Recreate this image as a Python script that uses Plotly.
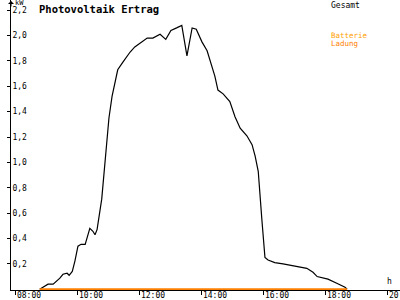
import plotly.graph_objects as go

# ---- data ----
times = ["08:46","09:02","09:12","09:25","09:31","09:39","09:43","09:49","09:54","10:00",
         "10:06","10:14","10:23","10:29","10:33","10:37","10:46","10:54","11:00","11:06",
         "11:11","11:17","11:27","11:41","11:50","12:00","12:14","12:25","12:39","12:50",
         "13:00","13:11","13:21","13:31","13:41","13:49","14:00","14:10","14:16","14:25",
         "14:31","14:41","14:54","15:04","15:14","15:27","15:37","15:43","15:49","15:52",
         "15:56","16:02","16:08","16:21","16:37","17:23","17:35","17:43","18:04","18:21",
         "18:37","18:41"]
gesamt_kw = [0.0,0.04,0.04,0.087,0.118,0.126,0.11,0.14,0.22,0.34,
             0.354,0.354,0.48,0.457,0.43,0.47,0.71,1.10,1.35,1.52,
             1.63,1.73,1.79,1.87,1.91,1.94,1.98,1.98,2.01,1.97,
             2.04,2.06,2.08,1.84,2.06,2.05,1.95,1.88,1.80,1.68,
             1.57,1.54,1.48,1.36,1.27,1.21,1.14,1.05,0.93,0.79,
             0.55,0.25,0.23,0.21,0.20,0.165,0.134,0.10,0.08,0.047,
             0.016,0.0]
batterie_times = ["08:46","18:41"]
batterie_kw = [0.0, 0.0]

x_tick_vals = [8, 10, 12, 14, 16, 18, 20]
x_tick_text = ["08:00","10:00","12:00","14:00","16:00","18:00","20:00"]
y_tick_vals = [0.2,0.4,0.6,0.8,1.0,1.2,1.4,1.6,1.8,2.0,2.2]
y_tick_text = ["0,2","0,4","0,6","0,8","1,0","1,2","1,4","1,6","1,8","2,0","2,2"]

def to_h(t):
    h, m = t.split(":")
    return int(h) + int(m) / 60.0

FONT = "DejaVu Sans Mono"

fig = go.Figure()
fig.add_trace(go.Scatter(x=[to_h(t) for t in times], y=gesamt_kw, mode="lines",
                         line=dict(color="black", width=1.2), name="Gesamt"))
fig.add_trace(go.Scatter(x=[to_h(t) for t in batterie_times], y=batterie_kw, mode="lines",
                         line=dict(color="#FF8000", width=2), name="Batterie Ladung"))

fig.update_layout(
    width=400, height=300,
    margin=dict(l=11, r=0, t=0, b=10),
    paper_bgcolor="white", plot_bgcolor="white",
    showlegend=False,
    font=dict(family=FONT, size=8, color="black"),
    xaxis=dict(range=[7.84, 20.39], tickvals=x_tick_vals, ticktext=x_tick_text,
               showgrid=False, zeroline=False, showline=True, linecolor="black", linewidth=1,
               ticks="outside", ticklen=4, tickcolor="black", automargin=False,
               ticklabelposition="outside right", ticklabeloverflow="allow",
               ticklabelstandoff=-3,
               tickfont=dict(family=FONT, size=8, color="black")),
    yaxis=dict(range=[-0.006, 2.28], tickvals=y_tick_vals, ticktext=y_tick_text,
               showgrid=False, zeroline=False, showline=True, linecolor="black", linewidth=1,
               ticks="outside", ticklen=3, tickcolor="black", automargin=False,
               ticklabelposition="inside", ticklabeloverflow="allow",
               tickfont=dict(family=FONT, size=8, color="black")),
)

def px(xp):
    return (xp - 11) / 389.0

def py(yp):
    return (290 - yp) / 290.0

ann = [
    dict(text="<b>Photovoltaik Ertrag</b>", x=px(37), y=py(9), xanchor="left", yanchor="middle",
         font=dict(family=FONT, size=10.5, color="black")),
    dict(text="kW", x=px(13), y=py(3), xanchor="left", yanchor="middle",
         font=dict(family=FONT, size=7, color="black")),
    dict(text="Gesamt", x=px(329), y=py(5), xanchor="left", yanchor="middle",
         font=dict(family=FONT, size=8, color="black")),
    dict(text="Batterie", x=px(329), y=py(35.5), xanchor="left", yanchor="middle",
         font=dict(family=FONT, size=7.5, color="#FFA000")),
    dict(text="Ladung", x=px(329), y=py(44), xanchor="left", yanchor="middle",
         font=dict(family=FONT, size=7.5, color="#FF8000")),
    dict(text="h", x=px(385), y=py(281), xanchor="left", yanchor="middle",
         font=dict(family=FONT, size=8, color="#000000")),
]
for a in ann:
    a.update(xref="paper", yref="paper", showarrow=False)
    fig.add_annotation(**a)

# arrowhead at top of y axis
fig.add_annotation(xref="paper", yref="paper", x=0, y=1.0, ax=0, ay=8,
                   axref="pixel", ayref="pixel", showarrow=True, arrowhead=1,
                   arrowsize=1, arrowwidth=1, arrowcolor="black", text="")

fig.write_html("out.html")
